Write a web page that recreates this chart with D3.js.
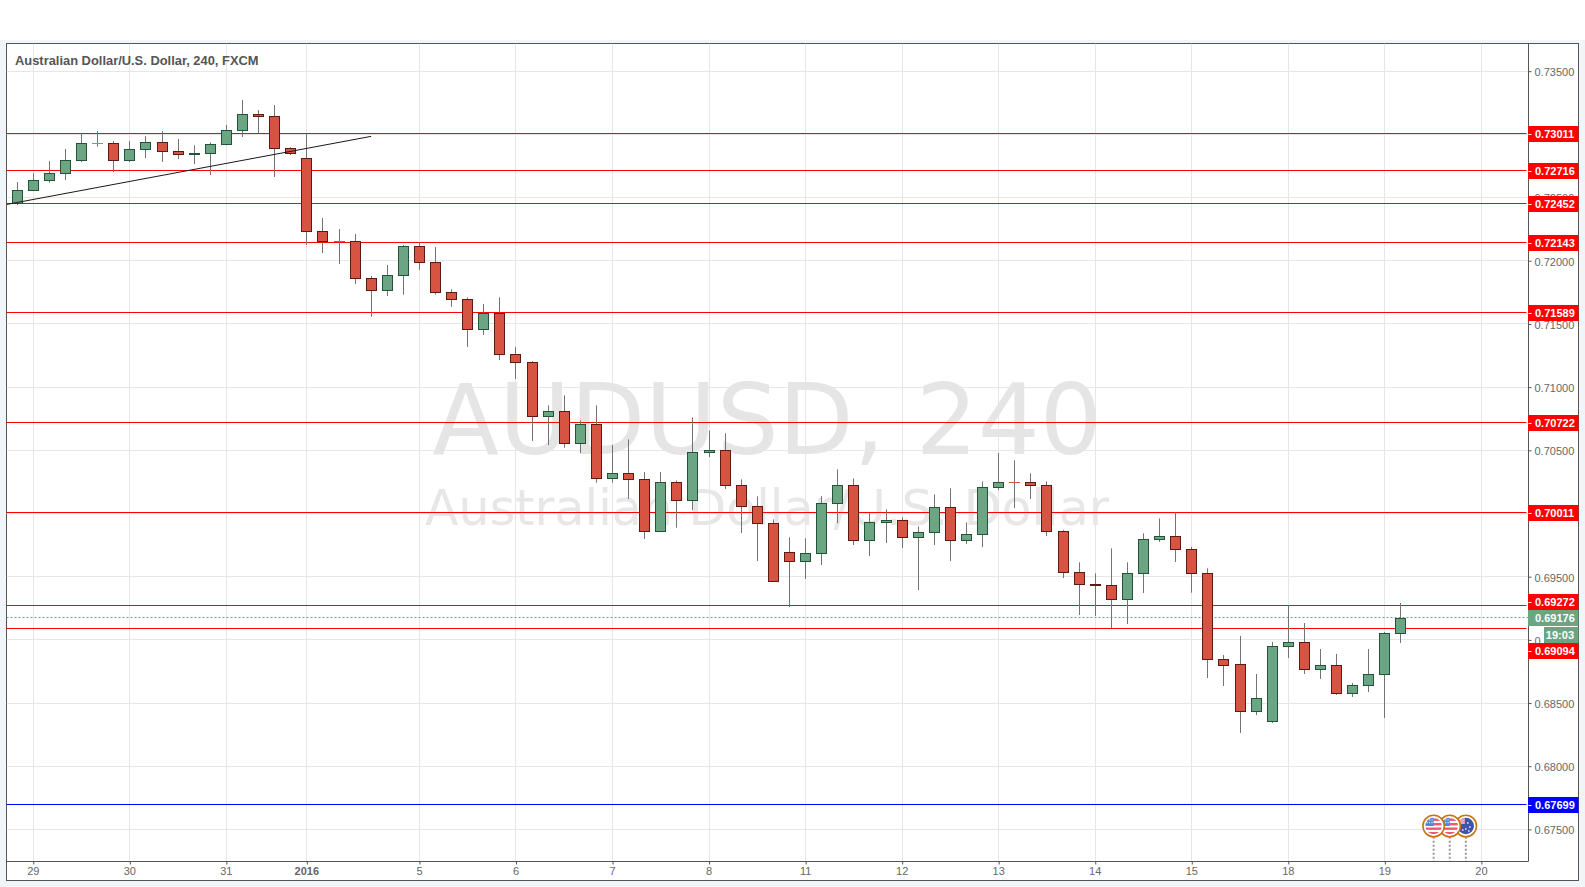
<!DOCTYPE html>
<html><head><meta charset="utf-8">
<script src="https://cdnjs.cloudflare.com/ajax/libs/d3/7.8.5/d3.min.js"></script>
<style>html,body{margin:0;padding:0;background:#fff;overflow:hidden}svg{display:block}</style>
</head><body><svg id="c" width="1585" height="887"></svg>
<script>
const opens=[.72462,.72560,.72639,.72695,.72798,.72930,.72932,.72798,.72885,.72940,.72869,.72845,.72853,.72924,.73035,.73162,.73146,.72893,.72814,.72235,.72156,.72156,.71864,.71769,.71888,.72117,.71991,.71753,.71697,.71460,.71587,.71261,.71198,.70770,.70810,.70556,.70707,.70279,.70319,.70271,.69859,.70248,.70105,.70485,.70501,.70224,.70057,.69923,.69693,.69622,.69685,.70081,.70224,.69788,.69931,.69947,.69812,.69852,.70050,.69788,.69836,.70208,.70248,.70248,.70224,.69859,.69535,.69440,.69432,.69321,.69527,.69796,.69820,.69717,.69527,.68852,.68807,.68440,.68361,.68949,.68981,.68767,.68799,.68577,.68640,.68727,.69052];
const highs=[.72626,.72697,.72792,.72888,.73012,.73030,.72951,.72951,.72990,.73030,.72967,.72917,.72940,.73078,.73276,.73196,.73236,.72903,.73012,.72341,.72254,.72214,.71882,.71969,.72128,.72149,.72112,.71777,.71713,.71661,.71713,.71319,.71208,.70857,.70937,.70739,.70857,.70543,.70588,.70329,.70329,.70263,.70762,.70659,.70636,.70271,.70137,.69954,.69812,.69804,.70139,.70350,.70279,.70002,.70034,.69970,.69899,.70152,.70200,.69931,.70255,.70480,.70422,.70319,.70255,.69870,.69614,.69527,.69725,.69614,.69844,.69962,.70010,.69736,.69567,.68881,.69031,.68730,.68984,.69274,.69134,.68928,.68889,.68659,.68928,.69063,.69292];
const lows=[.72444,.72560,.72621,.72642,.72785,.72906,.72705,.72785,.72816,.72785,.72808,.72769,.72682,.72917,.72983,.73012,.72666,.72840,.72127,.72064,.71977,.71818,.71560,.71724,.71734,.71930,.71734,.71637,.71320,.71415,.71216,.71066,.70575,.70543,.70522,.70480,.70245,.70245,.70116,.69799,.69859,.69888,.70028,.70448,.70195,.69846,.69624,.69463,.69260,.69482,.69593,.69925,.69751,.69664,.69767,.69727,.69395,.69751,.69624,.69759,.69735,.70187,.70044,.70116,.69822,.69490,.69197,.69189,.69091,.69126,.69371,.69775,.69617,.69374,.68698,.68635,.68263,.68405,.68342,.68857,.68730,.68691,.68564,.68548,.68588,.68382,.68976];
const closes=[.72560,.72639,.72695,.72798,.72932,.72932,.72798,.72885,.72940,.72869,.72845,.72853,.72924,.73035,.73162,.73146,.72893,.72853,.72235,.72156,.72151,.71863,.71769,.71888,.72117,.71991,.71753,.71697,.71460,.71587,.71262,.71198,.70770,.70810,.70556,.70707,.70279,.70319,.70271,.69859,.70248,.70105,.70485,.70501,.70224,.70057,.69923,.69463,.69622,.69685,.70081,.70224,.69788,.69931,.69947,.69812,.69852,.70050,.69788,.69836,.70208,.70248,.70245,.70224,.69859,.69535,.69440,.69432,.69321,.69527,.69796,.69820,.69717,.69527,.68852,.68804,.68440,.68537,.68949,.68981,.68767,.68799,.68577,.68640,.68727,.69052,.69171];

const priceTicks=[.735,.73,.725,.72,.715,.71,.705,.70,.695,.69,.685,.68,.675];
const dateTickIndex=[1,7,13,18,25,31,37,43,49,55,61,67,73,79,85,91];
const dateTickLabels=["29","30","31","2016","5","6","7","8","11","12","13","14","15","18","19","20"];
const redLevels=[.73011,.72716,.72452,.72143,.71589,.70722,.70011,.69272,.69094];
const blueLevels=[.67699];
const lastPrice=.69176;
const countdown="19:03";
const trendIndex=[-0.65,22];
const trendPrice=[.72449,.72988];
const eventIndex=[90,89,88];
const eventCountry=["AU","US","US"];
const titleText="Australian Dollar/U.S. Dollar, 240, FXCM";
const watermark1="AUDUSD, 240";
const watermark2="Australian Dollar/U.S. Dollar";

const svg=d3.select("#c");
const L=6.5,T=43.5,R=1528.5,B=861.5,OR=1578.5,OB=880.5;
const x=d3.scaleLinear().domain([0,91]).range([17.2,1481.4]);
const y=d3.scaleLinear().domain([.675,.735]).range([829.4,71.2]);
const yc=d3.scaleLinear().domain([.675,.735]).range([829.3,71.7]);
const cr=v=>Math.floor(v)+.5;
const lvl=v=>cr(y(v)+.06);
const GRID="#e6e6e6",AX="#555",TXT="#666";

svg.append("rect").attr("x",0).attr("y",40).attr("width",1585).attr("height",847).attr("fill","#f1f5f8");
svg.append("rect").attr("x",L).attr("y",T).attr("width",OR-L).attr("height",OB-T).attr("fill","#fff").attr("stroke",AX).attr("stroke-width",1);

const defs=svg.append("defs");
defs.append("clipPath").attr("id","plot").append("rect").attr("x",L).attr("y",T).attr("width",R-L).attr("height",B-T);

const plot=svg.append("g").attr("clip-path","url(#plot)");
// grid
plot.append("g").selectAll("line").data(dateTickIndex).join("line")
 .attr("x1",d=>cr(x(d))).attr("x2",d=>cr(x(d))).attr("y1",T).attr("y2",B).attr("stroke",GRID);
plot.append("g").selectAll("line").data(priceTicks).join("line")
 .attr("x1",L).attr("x2",R).attr("y1",lvl).attr("y2",lvl).attr("stroke",GRID);
// watermark
plot.append("text").attr("x",767).attr("y",454).attr("text-anchor","middle")
 .attr("font-family","DejaVu Sans").attr("font-size",97.5).attr("fill","#e5e5e5").text(watermark1);
plot.append("text").attr("x",767).attr("y",525).attr("text-anchor","middle")
 .attr("font-family","DejaVu Sans").attr("font-size",49).attr("fill","#e7e7e7").text(watermark2);

// levels
plot.append("g").selectAll("line").data(redLevels).join("line")
 .attr("x1",L).attr("x2",R-2).attr("y1",lvl).attr("y2",lvl).attr("stroke","#ff0000");
plot.append("g").selectAll("line").data(blueLevels).join("line")
 .attr("x1",L).attr("x2",R-2).attr("y1",lvl).attr("y2",lvl).attr("stroke","#0000ff");
plot.append("line").attr("x1",L).attr("x2",R).attr("y1",lvl(lastPrice)).attr("y2",lvl(lastPrice))
 .attr("stroke","#6ba583").attr("stroke-dasharray","2,2");

// candles
const idx=d3.range(opens.length);
const UP={f:"#6ba583",s:"#225437"},DN={f:"#d75442",s:"#5b1a13"};
const col=i=>closes[i]>=opens[i]?UP:DN;
const py=v=>Math.round(yc(v));
plot.append("g").selectAll("line").data(idx).join("line")
 .attr("x1",i=>cr(x(i))).attr("x2",i=>cr(x(i))).attr("y1",i=>yc(highs[i])).attr("y2",i=>yc(lows[i]))
 .attr("stroke","#737375");
const thin=i=>Math.abs(yc(opens[i])-yc(closes[i]))<0.9;
plot.append("g").selectAll("rect").data(idx).join("rect")
 .attr("x",i=>cr(x(i))-5).attr("width",10)
 .attr("y",i=>py(Math.max(opens[i],closes[i]))+.5)
 .attr("height",i=>thin(i)?0.01:Math.max(1,py(Math.min(opens[i],closes[i]))-py(Math.max(opens[i],closes[i]))))
 .attr("fill",i=>col(i).f)
 .attr("stroke",i=>thin(i)?col(i).f:col(i).s);

// trend line
plot.append("line").attr("x1",x(trendIndex[0])).attr("x2",x(trendIndex[1]))
 .attr("y1",yc(trendPrice[0])).attr("y2",yc(trendPrice[1])).attr("stroke","#1a1a1a").attr("stroke-width",1);

// event flags
const FY=826,FR=10.7;
const ev=plot.append("g").selectAll("g").data(eventIndex).join("g");
ev.append("line").attr("x1",d=>x(d)+.5).attr("x2",d=>x(d)+.5).attr("y1",FY+FR).attr("y2",B)
 .attr("stroke","#999").attr("stroke-width",2).attr("stroke-dasharray","2,2");
eventIndex.forEach((d,k)=>{
 const id="fl"+k,cxx=x(d)+.5;
 defs.append("clipPath").attr("id",id).append("circle").attr("cx",cxx).attr("cy",FY).attr("r",FR-2.5);
 const g=ev.filter(e=>e===d);
 g.append("circle").attr("cx",cxx).attr("cy",FY).attr("r",FR).attr("fill","#fff").attr("stroke","#c8740f").attr("stroke-width",1.6);
 const f=g.append("g").attr("clip-path",`url(#${id})`);
 if(eventCountry[k]==="US"){
  f.append("rect").attr("x",cxx-9).attr("y",FY-9).attr("width",18).attr("height",18).attr("fill","#fff");
  [-7.5,-3,1.5,6].forEach(o=>f.append("rect").attr("x",cxx-9).attr("y",FY+o).attr("width",18).attr("height",2.4).attr("fill","#ef5a6f"));
  f.append("rect").attr("x",cxx-9).attr("y",FY-9).attr("width",9).attr("height",9).attr("fill","#4f86d9");
  d3.range(3).forEach(a=>d3.range(2).forEach(b=>f.append("rect").attr("x",cxx-7+a*2.4).attr("y",FY-6.6+b*2.6).attr("width",1.2).attr("height",1.2).attr("fill","#dfe9f8")));
 }else{
  f.append("rect").attr("x",cxx-9).attr("y",FY-9).attr("width",18).attr("height",18).attr("fill","#3f55ab");
  f.append("rect").attr("x",cxx-9).attr("y",FY-9).attr("width",8).attr("height",7).attr("fill","#e9a9b4");
  [[2,-3],[4,1],[0,3],[-3,4],[3,5]].forEach(p=>f.append("circle").attr("cx",cxx+p[0]).attr("cy",FY+p[1]).attr("r",.9).attr("fill","#cfd6f0"));
 }
});

// axes
const font="Liberation Sans";
const ya=svg.append("g").attr("transform",`translate(${R},0)`)
 .call(d3.axisRight(y).tickValues(priceTicks).tickFormat(d3.format(".5f")).tickSize(3).tickPadding(3));
const xa=svg.append("g").attr("transform",`translate(0,${B})`)
 .call(d3.axisBottom(x).tickValues(dateTickIndex).tickFormat((d,i)=>dateTickLabels[i]).tickSize(3).tickPadding(3));
[ya,xa].forEach(a=>{
 a.select(".domain").remove();
 a.selectAll("line").attr("stroke",AX);
 a.selectAll("text").attr("font-family",font).attr("font-size",11).attr("fill",TXT);
});
ya.selectAll("text").attr("dy",".4em");
xa.selectAll("text").attr("dx","-.5");
xa.selectAll("text").filter((d,i)=>dateTickLabels[i]==="2016").attr("font-weight","bold");
svg.append("line").attr("x1",R).attr("x2",R).attr("y1",T).attr("y2",B).attr("stroke",AX);
svg.append("line").attr("x1",L).attr("x2",R).attr("y1",B).attr("y2",B).attr("stroke",AX);

// price labels; labels close to the last price get pushed apart
const shift=new Map([[.69272,-4],[.69094,22.5]]);
const labels=[...redLevels.map(v=>({v,c:"#ff0000"})),...blueLevels.map(v=>({v,c:"#0000ff"})),{v:lastPrice,c:"#6ba583"}];
const lg=svg.append("g").selectAll("g").data(labels).join("g")
 .attr("transform",d=>`translate(${R},${Math.round(y(d.v)+.6+(shift.get(d.v)||0))})`);
lg.append("rect").attr("x",-.5).attr("y",-8).attr("width",OR-R+.5).attr("height",16).attr("fill",d=>d.c);
lg.append("text").attr("x",6.5).attr("y",4).attr("font-family",font).attr("font-size",11).attr("font-weight","bold")
 .attr("fill","#fff").text(d=>d.v.toFixed(5));
lg.filter(d=>d.v!==lastPrice).append("line").attr("x1",0).attr("x2",3).attr("y1",.5).attr("y2",.5).attr("stroke","#fff");
// countdown
const cy=Math.round(y(lastPrice))+9;
svg.append("rect").attr("x",1544).attr("y",cy).attr("width",OR-1544).attr("height",16).attr("fill","#6ba583");
svg.append("text").attr("x",1574).attr("y",cy+12).attr("text-anchor","end").attr("font-family",font).attr("font-size",11)
 .attr("font-weight","bold").attr("fill","#fff").text(countdown);

svg.append("text").attr("x",15).attr("y",65).attr("font-family",font).attr("font-weight","bold").attr("font-size",12.9)
 .attr("fill","#555").text(titleText);
</script></body></html>
